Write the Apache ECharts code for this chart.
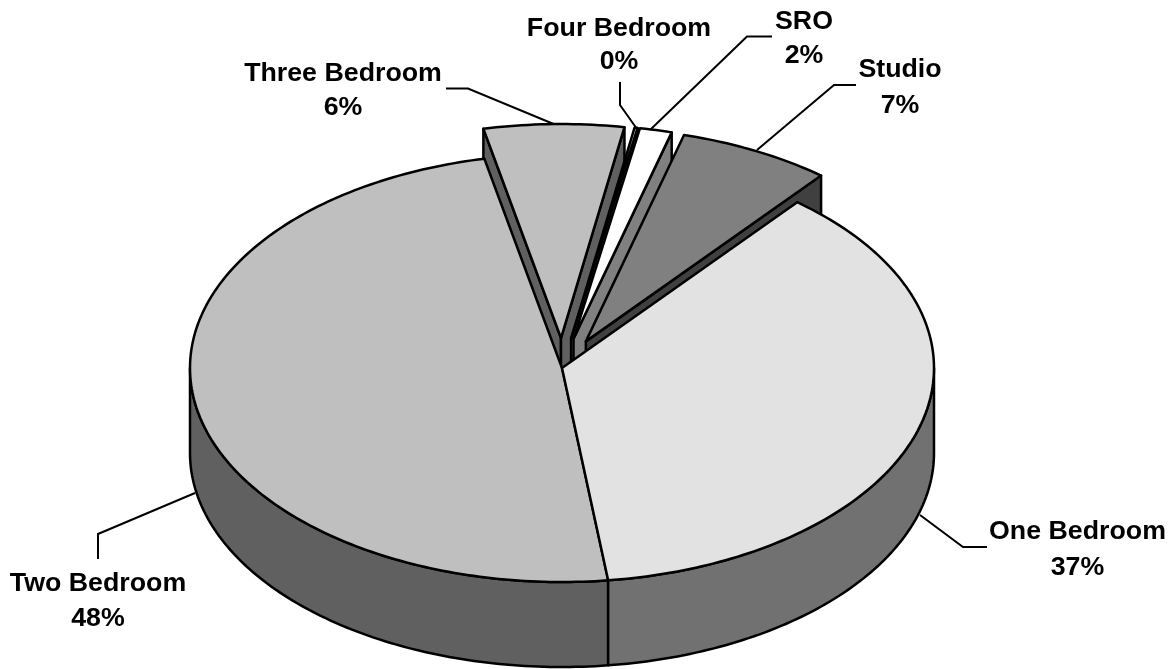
<!DOCTYPE html>
<html>
<head>
<meta charset="utf-8">
<style>html,body{margin:0;padding:0;background:#fff}#c{width:1174px;height:669px}</style>
<script src="https://cdn.jsdelivr.net/npm/echarts@6/dist/echarts.min.js"></script>
</head>
<body>
<div id="c"></div>
<script>
// Clockwise from the first slice
var categories = ['Studio', 'One Bedroom', 'Two Bedroom', 'Three Bedroom', 'Four Bedroom', 'SRO'];
var shares = [6.64, 37.1, 48.6, 6.07, 0.13, 1.39];
var percentLabels = ['7%', '37%', '48%', '6%', '0%', '2%'];
var faceColors = ['#808080', '#e2e2e2', '#bfbfbf', '#bfbfbf', '#ffffff', '#ffffff'];
var explosion = [0.14, 0, 0, 0.14, 0.14, 0.14];

// Pie geometry (style, not data)
var firstSliceAngle = 15.3;
var cx = 562, cy = 368, rx = 372, ry = 214, depth = 85;
var wallShade = 0.5;

// Label layout: [label centre x, name y, percent y]
var labelAnchors = [[900, 70.5, 106.5], [1077.5, 532.5, 568.5], [98, 584.5, 619], [343, 74.5, 108.5], [619, 29, 62.5], [804, 22.5, 56.5]];
var leaders = [
  [[856, 85], [834, 85], [757, 150]],
  [[987, 547], [963, 547], [920, 515]],
  [[98, 559], [98, 534], [195, 493]],
  [[446, 88.5], [468, 88.5], [556, 125]],
  [[620, 82], [620, 105], [637, 129]],
  [[772, 36.5], [747, 36.5], [650, 130]]
];

var total = shares.reduce(function (a, b) { return a + b; }, 0);
var slices = [];
var running = firstSliceAngle;
shares.forEach(function (v, i) {
  var sweep = v / total * 360;
  slices.push({ i: i, a0: running, a1: running + sweep });
  running += sweep;
});

function rad(d) { return d * Math.PI / 180; }
function pt(ax, ay, ang, dz) {
  return [ax + rx * Math.sin(rad(ang)), ay - ry * Math.cos(rad(ang)) + (dz || 0)];
}
function shade(hex) {
  var n = parseInt(hex.slice(1), 16);
  var c = Math.round((n & 255) * wallShade).toString(16);
  if (c.length < 2) c = '0' + c;
  return '#' + c + c + c;
}
function arcPts(ax, ay, a0, a1, dz) {
  var out = [], n = Math.max(2, Math.ceil(Math.abs(a1 - a0) / 1));
  for (var k = 0; k <= n; k++) out.push(pt(ax, ay, a0 + (a1 - a0) * k / n, dz));
  return out;
}

// Back-to-front paint order: exploded wedges first, left to right, then the two front slices
var paintOrder = slices.slice().sort(function (p, q) {
  var ep = explosion[p.i] > 0 ? 0 : 1, eq = explosion[q.i] > 0 ? 0 : 1;
  if (ep !== eq) return ep - eq;
  var mp = ((p.a0 + p.a1) / 2 + 180) % 360, mq = ((q.a0 + q.a1) / 2 + 180) % 360;
  return mp - mq;
});

function poly(points, fill) {
  return {
    type: 'polygon',
    shape: { points: points },
    style: { fill: fill, stroke: '#000', lineWidth: 2.5, lineJoin: 'round' }
  };
}

function renderSlice(params, api) {
  var s = paintOrder[params.dataIndex];
  var mid = rad((s.a0 + s.a1) / 2), e = explosion[s.i];
  var ax = cx + e * rx * Math.sin(mid), ay = cy - e * ry * Math.cos(mid);
  var face = faceColors[s.i], wall = shade(face);
  var a0 = s.a0 % 360, a1 = a0 + (s.a1 - s.a0);
  var kids = [];
  if (e > 0) {
    // Side walls that look towards the viewer
    var n0 = ((a0 % 360) + 360) % 360, n1 = ((a1 % 360) + 360) % 360;
    if (n0 > 180) kids.push(poly([[ax, ay], pt(ax, ay, a0), pt(ax, ay, a0, depth), [ax, ay + depth]], wall));
    if (n1 < 180) kids.push(poly([[ax, ay], pt(ax, ay, a1), pt(ax, ay, a1, depth), [ax, ay + depth]], wall));
  }
  // Outer rim: only the front half of the ellipse is visible
  var lo = Math.max(a0, 90), hi = Math.min(a1, 270);
  if (hi > lo) {
    kids.push(poly(arcPts(ax, ay, lo, hi, 0).concat(arcPts(ax, ay, hi, lo, depth)), wall));
  }
  kids.push(poly([[ax, ay]].concat(arcPts(ax, ay, a0, a1, 0)), face));
  return { type: 'group', children: kids };
}

var graphics = [];
categories.forEach(function (name, i) {
  graphics.push({
    type: 'polyline', silent: true,
    shape: { points: leaders[i] },
    style: { fill: 'none', stroke: '#000', lineWidth: 2 }
  });
  [[name, labelAnchors[i][1]], [percentLabels[i], labelAnchors[i][2]]].forEach(function (t) {
    graphics.push({
      type: 'text', silent: true, x: labelAnchors[i][0], y: t[1], scaleX: 1.07,
      style: {
        text: t[0], fill: '#000', align: 'center', verticalAlign: 'middle',
        font: 'bold 25px "Liberation Sans", Arial, sans-serif'
      }
    });
  });
});

var chart = echarts.init(document.getElementById('c'), null, { renderer: 'canvas' });
chart.setOption({
  backgroundColor: '#ffffff',
  animation: false,
  graphic: graphics,
  series: [{
    type: 'custom',
    coordinateSystem: 'none',
    silent: true,
    renderItem: renderSlice,
    data: paintOrder.map(function (s) { return { name: categories[s.i], value: shares[s.i] }; })
  }]
});
</script>
</body>
</html>
